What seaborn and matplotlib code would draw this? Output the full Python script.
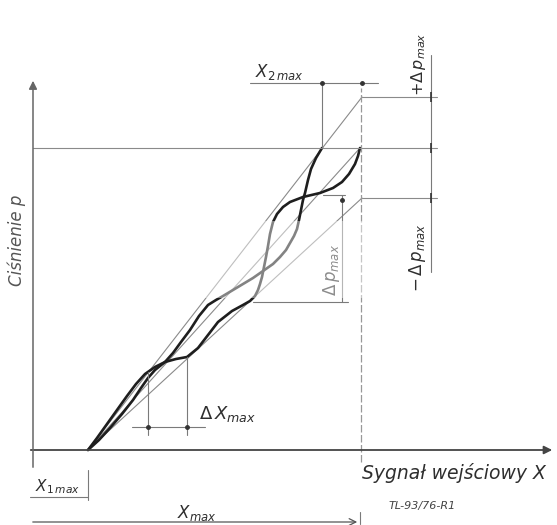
import numpy as np
import pandas as pd
import matplotlib
matplotlib.use("Agg")
import matplotlib.pyplot as plt
import seaborn as sns

sns.set_theme(style="white")
plt.rcParams['font.family'] = ['DejaVu Sans']
plt.rcParams['mathtext.fontset'] = 'dejavusans'

# ---- data (signal X, pressure p) ----
x_curve_a = [55, 66, 77, 89, 100, 108, 115, 122, 132, 140, 148, 157, 166, 175, 183, 190,
             200, 210, 220, 230, 240, 247, 253, 257, 261, 264, 266, 268, 270, 272, 275, 278, 283, 289]
p_curve_a = [0, 10, 22, 36, 50, 62, 72, 80, 88, 97, 108, 120, 134, 145, 150, 154,
             160, 166, 172, 179, 186, 193, 200, 207, 214, 221, 230, 240, 250, 257, 270, 281, 292, 302]
x_curve_b = [55, 64, 74, 84, 94, 103, 112, 122, 132, 143, 154, 165, 175, 185, 199, 210, 217,
             222, 225, 227, 229, 231, 233, 235, 237, 240, 244, 250, 257, 270, 287, 300, 309, 316, 322, 325, 327]
p_curve_b = [0, 12, 26, 40, 54, 66, 76, 83, 88, 91, 93, 102, 115, 128, 139, 145, 149,
             154, 160, 166, 173, 183, 193, 204, 216, 228, 236, 243, 248, 253, 257, 262, 268, 276, 286, 294, 302]

x_start = 55          # X1max
x_end = 327           # Xmax
p_nominal = 302
p_upper = 353         # +dp max
p_lower = 252         # -dp max
x_fan_end = [329, 327, 329]
p_fan_end = [p_upper, p_nominal, p_lower]
x2_mark = 289         # X2max point
dp_top, dp_bot = 255, 148
dx_left, dx_right = 115, 154

fig = plt.figure(figsize=(5.57, 5.25), dpi=100)
ax = fig.add_axes([0, 0, 1, 1])
ax.set_xlim(-33, 524)
ax.set_ylim(-75, 450)
ax.axis('off')

thin = dict(color='#8a8a8a', lw=0.8)
dim = dict(color='#7a7a7a', lw=0.8)

# fan of thin straight characteristics
fan = pd.DataFrame({
    'x': sum([[x_start, xe] for xe in x_fan_end], []),
    'p': sum([[0, pe] for pe in p_fan_end], []),
    'line': sum([[i, i] for i in range(3)], []),
})
sns.lineplot(data=fan, x='x', y='p', units='line', estimator=None, sort=False,
             color='#8a8a8a', lw=0.8, ax=ax, legend=False)

# two real characteristics
curves = pd.DataFrame({
    'x': x_curve_a + x_curve_b,
    'p': p_curve_a + p_curve_b,
    'branch': ['a'] * len(x_curve_a) + ['b'] * len(x_curve_b),
})
sns.lineplot(data=curves, x='x', y='p', units='branch', estimator=None, sort=False,
             color='#1e1e1e', lw=1.9, ax=ax, legend=False)

# reference levels
ax.plot([0, 404], [p_nominal, p_nominal], **thin)
ax.plot([329, 404], [p_upper, p_upper], **thin)
ax.plot([329, 404], [p_lower, p_lower], **thin)
ax.plot([x_end + 1, x_end + 1], [-12, 362], color='#999999', lw=0.9, ls=(0, (6, 2)))

# dp dimension at right
ax.plot([398, 398], [178, 395], **dim)
for pv in (p_upper, p_nominal, p_lower):
    ax.plot([398], [pv], marker='|', ms=7, color='#333', mew=1.2)

# X2max dimension
ax.plot([217, 345], [367, 367], **dim)
ax.plot([x2_mark, x2_mark], [p_nominal, 367], **dim)
ax.plot([x2_mark, 329], [367, 367], ls='none', marker='o', ms=2.5, color='#333')

# inner dp dimension
ax.plot([290, 312], [dp_top, dp_top], **dim)
ax.plot([220, 315], [dp_bot, dp_bot], **dim)
ax.plot([309, 309], [dp_bot, dp_top], **dim)
ax.plot([309], [dp_top - 5], marker='o', ms=2.5, color='#333')

# dX dimension
ax.plot([dx_left, dx_left], [15, 78], **dim)
ax.plot([dx_right, dx_right], [15, 93], **dim)
ax.plot([99, 172], [23, 23], **dim)
ax.plot([dx_left, dx_right], [23, 23], ls='none', marker='o', ms=2.5, color='#333')

# faded band of the scan
ax.add_patch(plt.Rectangle((147, 152), 185, 77, color='white', alpha=0.45, zorder=5, lw=0))

# axes with arrows
ax.annotate('', xy=(522, 0), xytext=(-5, 0),
            arrowprops=dict(arrowstyle='-|>', color='#444', lw=1.3, mutation_scale=12))
ax.annotate('', xy=(0, 372), xytext=(0, -20),
            arrowprops=dict(arrowstyle='-|>', color='#666', lw=1.1, mutation_scale=12))

# bottom dimensions
ax.plot([-3, x_start], [-47, -47], **dim)
ax.plot([x_start, x_start], [-20, -50], **dim)
ax.annotate('', xy=(x_end, -72), xytext=(-3, -72),
            arrowprops=dict(arrowstyle='->', color='#555', lw=0.9))
ax.plot([x_end, x_end], [-62, -74], **dim)

tc = '#2e2e2e'
ax.text(329, -23, 'Sygnał wejściowy X', fontsize=13.5, style='italic', color=tc,
        ha='left', va='center')
ax.text(356, -56, 'TL-93/76-R1', fontsize=8, style='italic', color='#444',
        ha='left', va='center')
ax.text(-16, 210, 'Ciśnienie p', fontsize=12, style='italic', color='#555',
        rotation=90, ha='center', va='center')
ax.text(24, -37, r'$X_{1\,max}$', fontsize=11, color=tc, ha='center', va='center')
ax.text(164, -63, r'$X_{max}$', fontsize=12, color=tc, ha='center', va='center')
ax.text(246, 378, r'$X_{2\,max}$', fontsize=12, color=tc, ha='center', va='center')
ax.text(385, 386, r'$+\Delta\,p_{max}$', fontsize=11.5, color=tc, rotation=90,
        ha='center', va='center')
ax.text(385, 192, r'$-\,\Delta\,p_{max}$', fontsize=12, color=tc, rotation=90,
        ha='center', va='center')
ax.text(299, 180, r'$\Delta\,p_{max}$', fontsize=12, color=tc, rotation=90,
        ha='center', va='center')
ax.text(195, 36, r'$\Delta\,X_{max}$', fontsize=13, color=tc, ha='center', va='center')

fig.savefig('out.png', dpi=100, facecolor='white')
